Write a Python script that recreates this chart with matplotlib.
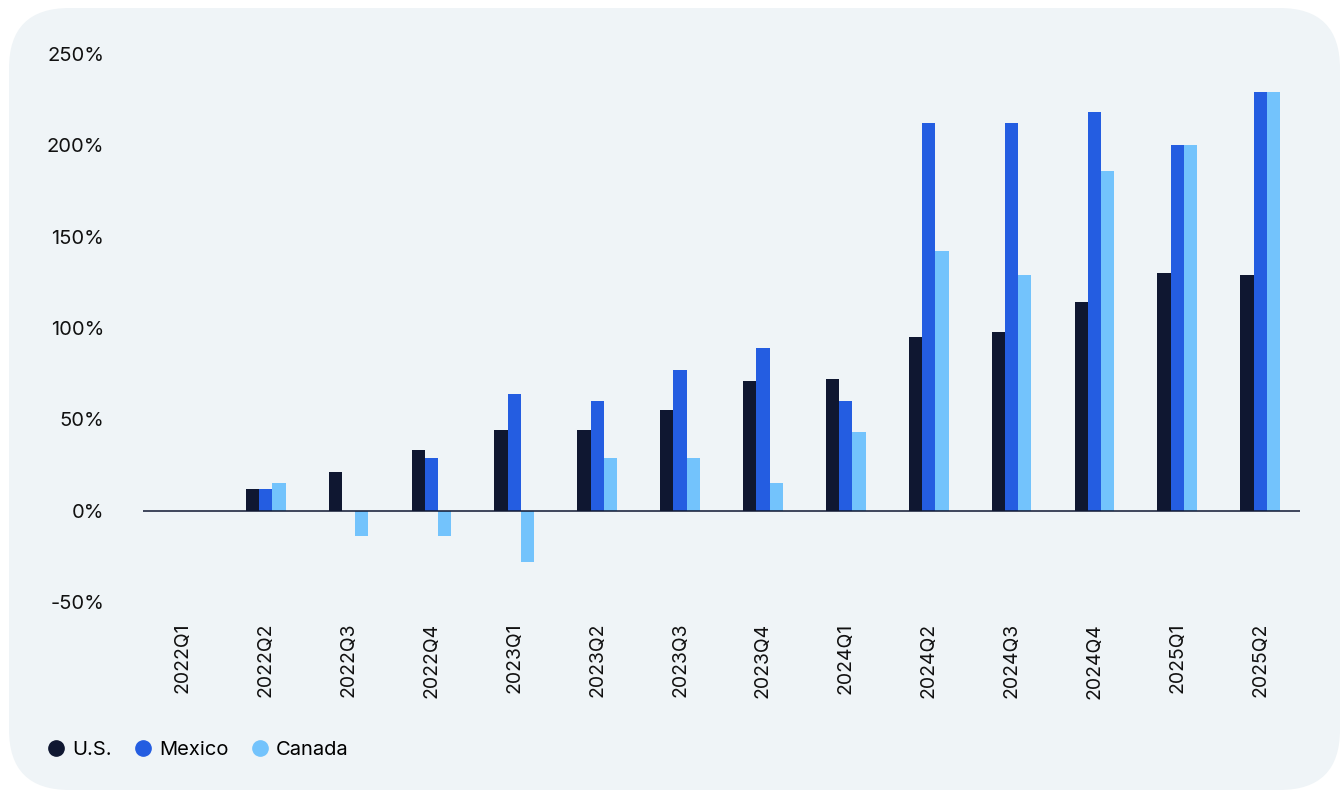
import numpy as np
import matplotlib
matplotlib.use("Agg")
import matplotlib.pyplot as plt
from matplotlib.patches import FancyBboxPatch
from matplotlib.lines import Line2D

# --- quarterly growth (%) by country ---
quarters = ["2022Q1", "2022Q2", "2022Q3", "2022Q4", "2023Q1", "2023Q2", "2023Q3",
            "2023Q4", "2024Q1", "2024Q2", "2024Q3", "2024Q4", "2025Q1", "2025Q2"]
us = [0, 12, 21, 33, 44, 44, 55, 71, 72, 95, 98, 114, 130, 129]
mexico = [0, 12, 0, 29, 64, 60, 77, 89, 60, 212, 212, 218, 200, 229]
canada = [0, 15, -14, -14, -28, 29, 29, 15, 43, 142, 129, 186, 200, 229]
yticks = [-50, 0, 50, 100, 150, 200, 250]

SERIES = [("U.S.", us, "#0F1731"), ("Mexico", mexico, "#245DE1"), ("Canada", canada, "#73C3FC")]
BG = "#EFF4F7"
plt.rcParams["font.family"] = ["Inter", "DejaVu Sans"]

fig = plt.figure(figsize=(13.4, 7.92), dpi=100)
fig.patch.set_facecolor("white")
panel = FancyBboxPatch((9 / 1340, 2 / 792), 1331 / 1340, 782 / 792,
                       boxstyle="round,pad=0,rounding_size=0.045",
                       mutation_aspect=1340 / 792,
                       transform=fig.transFigure, facecolor=BG, edgecolor="none", zorder=-5)
fig.patches.append(panel)

ax = fig.add_axes([143 / 1340, 1 - 602 / 792, 1157 / 1340, 548 / 792])
ax.set_facecolor("none")

x = np.arange(len(quarters))
w = 0.16
for i, (name, vals, col) in enumerate(SERIES):
    ax.bar(x + (i - 1) * w, vals, width=w, color=col, zorder=2)

ax.axhline(0, color="#0F1731", lw=1.1, zorder=3)
ax.set_xlim(-0.48, len(quarters) - 0.52)
ax.set_ylim(-50, 250)
ax.set_yticks(yticks)
ax.set_yticklabels([f"{v}%" for v in yticks], fontsize=14.5, color="#111111")
ax.set_xticks(x)
ax.set_xticklabels(quarters, rotation=90, fontsize=14, color="#111111")
ax.tick_params(axis="y", length=0, pad=28)
ax.tick_params(axis="x", length=0, pad=15)
for s in ax.spines.values():
    s.set_visible(False)

handles = [Line2D([], [], marker="o", ls="none", markersize=11, color=c, label=n)
           for n, _, c in SERIES]
fig.legend(handles=handles, loc="center left", bbox_to_anchor=(26 / 1340, 1 - 750 / 792),
           ncol=3, frameon=False, fontsize=14.5, handletextpad=0.2, columnspacing=0.95,
           handlelength=1.2)

fig.savefig("out.png", dpi=100, facecolor="white")
